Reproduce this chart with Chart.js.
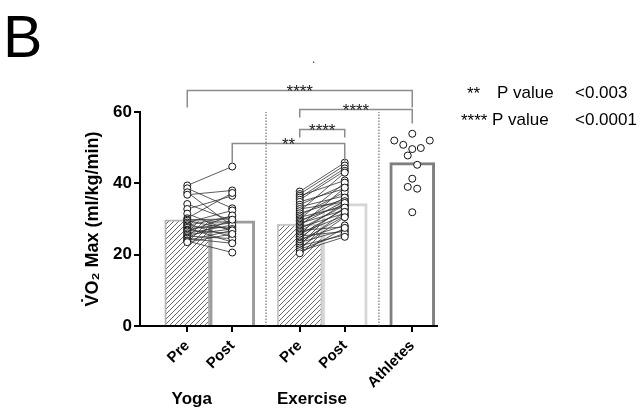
<!DOCTYPE html>
<html>
<head>
<meta charset="utf-8">
<script src="https://cdn.jsdelivr.net/npm/chart.js@4.4.1/dist/chart.umd.min.js"></script>
<style>
  html, body { margin: 0; padding: 0; background: #fff; }
</style>
</head>
<body>
<canvas id="myChart" width="641" height="414"></canvas>
<script>
const tickLabels = ['Pre', 'Post', 'Pre', 'Post', 'Athletes'];
const tickPos = [1, 2, 3.5, 4.5, 6];
const groupLabels = ['Yoga', 'Exercise'];
const yTicks = [0, 20, 40, 60];

// bar heights (group means)
const barMeans = [29.8, 29.5, 28.6, 34.3, 45.8];

// paired subjects, pre -> post
const yogaPre = [39.4, 38.6, 37.5, 36.8, 34.2, 32.8, 31.5, 30.2, 29.8, 29.5, 29.0, 28.6, 28.2,
    27.8, 27.5, 27.0, 26.8, 26.5, 26.0, 25.6, 25.2, 24.8, 24.5, 24.0, 23.8, 23.5];
const yogaPost = [44.7, 33.0, 28.0, 38.0, 29.5, 36.5, 26.5, 37.3, 30.0, 27.0, 32.4, 25.0, 30.8,
    27.5, 23.5, 29.0, 26.0, 31.0, 28.3, 27.2, 24.5, 29.8, 23.2, 26.8, 20.6, 25.8];

const exercisePre = [37.7, 37.0, 36.5, 36.0, 35.4, 34.8, 34.0, 33.4, 32.8, 32.2, 31.6, 31.0,
    30.5, 30.0, 29.6, 29.2, 28.8, 28.4, 28.0, 27.6, 27.2, 26.8, 26.4, 26.0,
    25.6, 25.2, 24.8, 24.3, 23.8, 23.4, 23.0, 22.5, 22.0, 21.5, 21.0, 20.4];
const exercisePost = [45.8, 45.0, 40.8, 44.2, 43.5, 38.5, 39.5, 36.5, 34.8, 43.0, 35.5, 37.6,
    33.5, 40.2, 34.0, 36.0, 32.5, 35.0, 38.8, 31.6, 33.8, 27.8, 34.5, 31.0,
    32.8, 26.5, 33.2, 28.2, 30.8, 27.0, 32.0, 25.5, 30.5, 26.0, 25.0, 27.5];

const athletes = [53.9, 52.0, 52.0, 50.8, 49.6, 49.9, 47.8, 45.2, 41.3, 39.0, 38.5, 31.9];

// significance comparisons (bar index pairs) and p-value key
const comparisons = [[0, 4], [2, 4], [2, 3], [1, 3]];
const compLabels = ['****', '****', '****', '**'];
const keyStars = ['**', '****'];
const keyValues = ['<0.003', '<0.0001'];

Chart.defaults.font.family = "'Liberation Sans', Arial, sans-serif";
Chart.defaults.color = '#000';

const ctx = document.getElementById('myChart');

function hatchPattern() {
    const c = document.createElement('canvas');
    c.width = 5; c.height = 5;
    const g = c.getContext('2d');
    g.fillStyle = '#fff';
    g.fillRect(0, 0, 5, 5);
    g.strokeStyle = '#555';
    g.lineWidth = 0.9;
    g.beginPath();
    g.moveTo(0, 5); g.lineTo(5, 0);
    g.moveTo(-1, 1); g.lineTo(1, -1);
    g.moveTo(4, 6); g.lineTo(6, 4);
    g.stroke();
    return ctx.getContext('2d').createPattern(c, 'repeat');
}
const hatch = hatchPattern();

function pairPoints(pre, post, x0, x1) {
    const pts = [];
    pre.forEach((v, i) => {
        pts.push({x: x0, y: v}, {x: x1, y: post[i]}, {x: x1, y: null});
    });
    return pts;
}

// horizontal spread of the athletes' dots
const athleteSpread = [0, -0.4, 0.39, -0.2, 0, 0.19, -0.1, 0.11, 0, -0.1, 0.11, 0];

const pointStyle = {
    pointRadius: 3.5,
    pointBorderWidth: 1,
    pointBorderColor: '#111',
    pointBackgroundColor: '#fff'
};

// brackets, labels and other text
const annotations = {
    id: 'annotations',
    afterDraw(chart) {
        const c = chart.ctx;
        const xs = chart.scales.x, ys = chart.scales.y;
        c.save();

        c.fillStyle = '#000';
        c.font = "59px 'Liberation Sans', Arial";
        c.textAlign = 'left';
        c.textBaseline = 'alphabetic';
        c.fillText('B', 3, 57);

        c.fillStyle = '#444';
        c.font = "12px 'Liberation Sans', Arial";
        c.fillText('.', 312, 63);

        // significance brackets
        const levels = [66.2, 60.8, 55.2, 51.3];
        const drops = [[17, 17], [8, 14], [8, 8], [20, 18]];
        c.strokeStyle = '#8c8c8c';
        c.lineWidth = 1.5;
        c.font = "17px 'Liberation Sans', Arial";
        c.textAlign = 'center';
        comparisons.forEach((cmp, i) => {
            const x0 = xs.getPixelForValue(tickPos[cmp[0]]);
            const x1 = xs.getPixelForValue(tickPos[cmp[1]]);
            const y = Math.round(ys.getPixelForValue(levels[i])) + 0.5;
            c.beginPath();
            c.moveTo(x0, y + drops[i][0]);
            c.lineTo(x0, y);
            c.lineTo(x1, y);
            c.lineTo(x1, y + drops[i][1]);
            c.stroke();
            c.fillStyle = '#222';
            c.fillText(compLabels[i], (x0 + x1) / 2, y + 6);
        });

        // p value key
        c.font = "17px 'Liberation Sans', Arial";
        c.textAlign = 'left';
        c.fillStyle = '#000';
        c.fillText(keyStars[0], 467, 99);
        c.fillText('P value', 497, 98);
        c.fillText(keyValues[0], 575, 98);
        c.fillText(keyStars[1], 461, 126);
        c.fillText('P value', 492, 125);
        c.fillText(keyValues[1], 575, 125);

        // group labels
        c.font = "bold 17px 'Liberation Sans', Arial";
        c.textAlign = 'center';
        c.fillText(groupLabels[0], xs.getPixelForValue(1.1), 404);
        c.fillText(groupLabels[1], xs.getPixelForValue(3.77), 404);
        c.restore();
    }
};

const myChart = new Chart(ctx, {
    type: 'bar',
    data: {
        datasets: [
            {
                type: 'bar',
                data: tickPos.map((x, i) => ({x: x, y: barMeans[i]})),
                backgroundColor: [hatch, '#fff', hatch, '#fff', '#fff'],
                borderColor: ['#b4b4b4', '#9c9c9c', '#c8c8c8', '#d6d6d6', '#7f7f7f'],
                borderWidth: [2, 3, 2, 3, 3],
                borderSkipped: 'bottom',
                barPercentage: 1,
                categoryPercentage: 1,
                order: 5
            },
            {
                type: 'line',
                data: [{x: 2.75, y: 0}, {x: 2.75, y: 60}, {x: 2.75, y: null},
                       {x: 5.26, y: 0}, {x: 5.26, y: 60}],
                borderColor: '#555',
                borderWidth: 1,
                borderDash: [1.5, 1.5],
                pointRadius: 0,
                order: 4
            },
            Object.assign({
                type: 'line',
                data: pairPoints(yogaPre, yogaPost, tickPos[0], tickPos[1]),
                borderColor: '#333',
                borderWidth: 0.8,
                order: 2
            }, pointStyle),
            Object.assign({
                type: 'line',
                data: pairPoints(exercisePre, exercisePost, tickPos[2], tickPos[3]),
                borderColor: '#333',
                borderWidth: 0.8,
                order: 1
            }, pointStyle),
            Object.assign({
                type: 'line',
                data: athletes.map((v, i) => ({x: tickPos[4] + athleteSpread[i], y: v})),
                showLine: false,
                order: 0
            }, pointStyle)
        ]
    },
    options: {
        responsive: false,
        animation: false,
        layout: {
            padding: {top: 112, right: 204, bottom: 0, left: 0}
        },
        plugins: {
            legend: {display: false},
            tooltip: {enabled: false}
        },
        scales: {
            x: {
                type: 'linear',
                min: -0.05,
                max: 6.55,
                offset: false,
                afterBuildTicks: s => { s.ticks = tickPos.map(v => ({value: v})); },
                afterFit: s => { s.height = 88; },
                ticks: {
                    autoSkip: false,
                    minRotation: 45,
                    maxRotation: 45,
                    padding: 5,
                    color: '#000',
                    font: {size: 15, weight: 'bold'},
                    callback: (v, i) => tickLabels[i]
                },
                grid: {
                    drawOnChartArea: false,
                    drawTicks: true,
                    tickLength: 6,
                    color: '#000',
                    lineWidth: 2,
                    offset: false
                },
                border: {color: '#000', width: 2}
            },
            y: {
                min: 0,
                max: 60,
                afterBuildTicks: s => { s.ticks = yTicks.map(v => ({value: v})); },
                afterFit: s => { s.width = 140; },
                ticks: {
                    padding: 2,
                    color: '#000',
                    font: {size: 17, weight: 'bold'}
                },
                grid: {
                    drawOnChartArea: false,
                    drawTicks: true,
                    tickLength: 6,
                    color: '#000',
                    lineWidth: 2
                },
                border: {color: '#000', width: 2},
                title: {
                    display: true,
                    text: 'V\u0307O\u2082 Max (ml/kg/min)',
                    color: '#000',
                    font: {size: 18, weight: 'bold'},
                    padding: {top: 82, bottom: 0}
                }
            }
        }
    },
    plugins: [annotations]
});
</script>
</body>
</html>
